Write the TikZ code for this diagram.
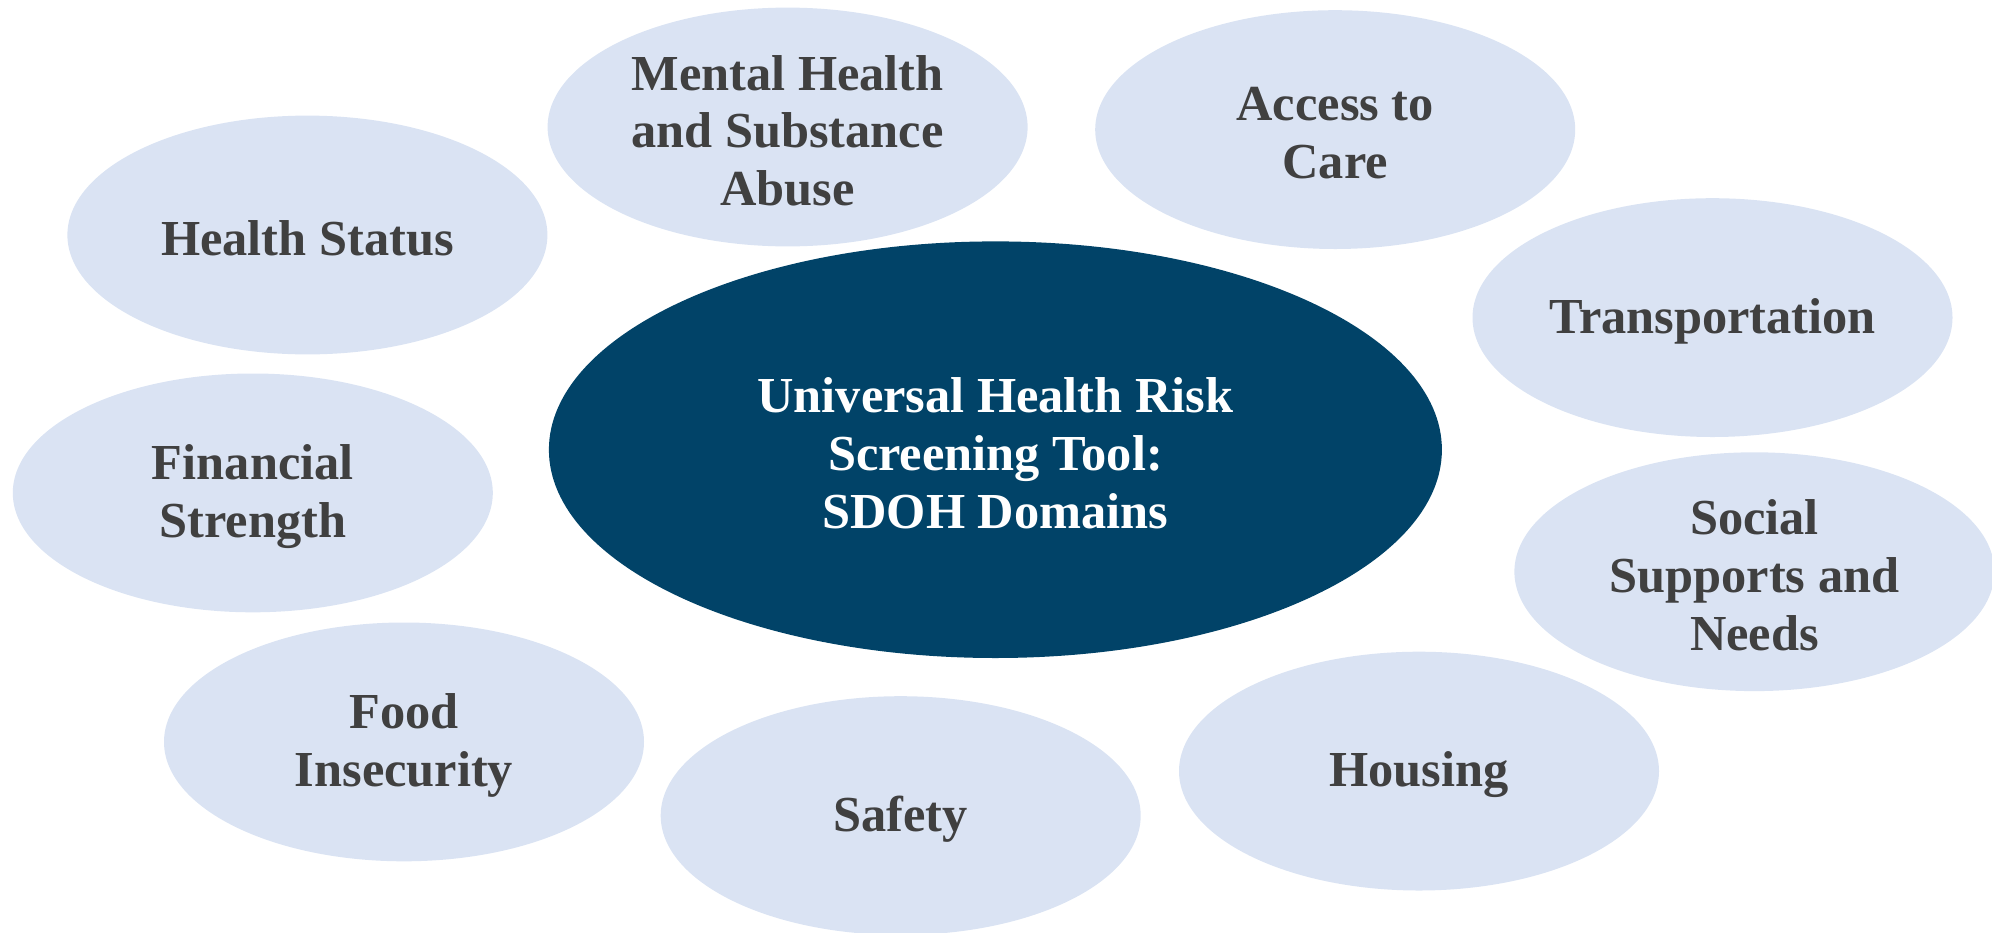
\documentclass[tikz,border=0pt]{standalone}
\usepackage{fontspec}
\setmainfont{Liberation Serif}
\usetikzlibrary{shapes.geometric}
\definecolor{domainfill}{HTML}{DAE3F3}
\definecolor{hubfill}{RGB}{1,67,104}
\definecolor{labelgray}{HTML}{404040}
\begin{document}
\begin{tikzpicture}[x=0.5pt,y=-0.5pt,
  sdohbox/.style={ellipse, fill=domainfill, draw=none, inner sep=0pt,
    minimum width=240pt, minimum height=119.4pt},
  hubbox/.style={ellipse, fill=hubfill, draw=none, inner sep=0pt,
    minimum width=446.5pt, minimum height=208.3pt},
  sdohtext/.style={inner sep=0pt, align=center, text=labelgray,
    font=\fontsize{25.2}{28.8}\selectfont\bfseries},
  hubtext/.style={sdohtext, text=white}]
\useasboundingbox (0,0) rectangle (1992,932);
\clip (0,0) rectangle (1992,932);
% ellipses
\node[hubbox] (hub) at (995.4,449.7) {};
\node[sdohbox] (health) at (307.4,235.0) {};
\node[sdohbox] (mental) at (787.6,127.0) {};
\node[sdohbox] (access) at (1335.2,129.6) {};
\node[sdohbox] (transport) at (1712.5,317.6) {};
\node[sdohbox] (social) at (1754.4,571.7) {};
\node[sdohbox] (housing) at (1419.0,771.1) {};
\node[sdohbox] (safety) at (900.7,815.6) {};
\node[sdohbox] (food) at (404.0,741.9) {};
\node[sdohbox] (financial) at (252.8,492.9) {};
% labels, set slightly below each centre
\node[hubtext] (hubtxt) at ([yshift=-1.8pt]hub.center) {Universal Health Risk\\Screening Tool:\\SDOH Domains};
\node[sdohtext] (healthtxt) at ([yshift=-1.8pt]health.center) {Health Status};
\node[sdohtext] (mentaltxt) at ([yshift=-1.8pt]mental.center) {Mental Health\\and Substance\\Abuse};
\node[sdohtext] (accesstxt) at ([yshift=-1.8pt]access.center) {Access to\\Care};
\node[sdohtext] (transporttxt) at ([yshift=-1.8pt]transport.center) {Transportation};
\node[sdohtext] (socialtxt) at ([yshift=-1.8pt]social.center) {Social\\Supports and\\Needs};
\node[sdohtext] (housingtxt) at ([yshift=-1.8pt]housing.center) {Housing};
\node[sdohtext] (safetytxt) at ([yshift=-1.8pt]safety.center) {Safety};
\node[sdohtext] (foodtxt) at ([yshift=-1.8pt]food.center) {Food\\Insecurity};
\node[sdohtext] (financialtxt) at ([yshift=-1.8pt]financial.center) {Financial\\Strength};
\end{tikzpicture}
\end{document}
